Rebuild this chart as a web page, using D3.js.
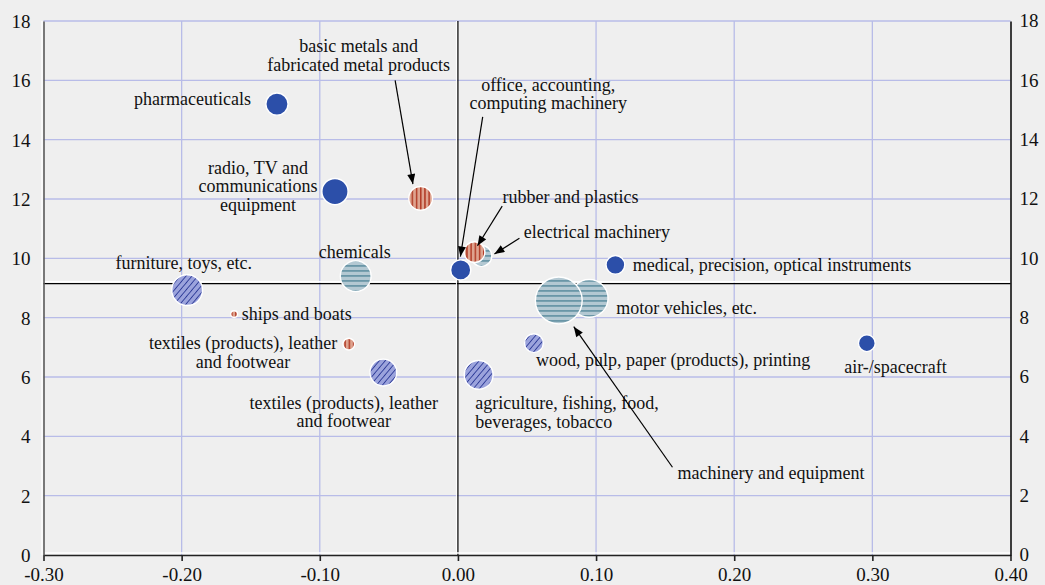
<!DOCTYPE html>
<html><head><meta charset="utf-8">
<script src="https://cdn.jsdelivr.net/npm/d3@7"></script>
<style>
html,body{margin:0;padding:0;background:#efefef;}
svg{display:block;}
text{font-family:"Liberation Serif","Times New Roman",serif;fill:#111;}
</style></head><body>
<svg id="chart" width="1045" height="585"></svg>
<script>
// ---------- data ----------
const sectors = [
  "pharmaceuticals",
  "radio, TV and communications equipment",
  "basic metals and fabricated metal products",
  "office, accounting, computing machinery",
  "rubber and plastics",
  "electrical machinery",
  "medical, precision, optical instruments",
  "chemicals",
  "furniture, toys, etc.",
  "ships and boats",
  "textiles (products), leather and footwear",
  "textiles (products), leather and footwear",
  "agriculture, fishing, food, beverages, tobacco",
  "wood, pulp, paper (products), printing",
  "air-/spacecraft",
  "motor vehicles, etc.",
  "machinery and equipment"
];
const xValues = [-0.131, -0.089, -0.027, 0.002, 0.012, 0.017, 0.114, -0.074, -0.196, -0.162, -0.079, -0.054, 0.015, 0.055, 0.296, 0.095, 0.073];
const yValues = [15.20, 12.25, 12.02, 9.61, 10.21, 10.08, 9.78, 9.40, 8.93, 8.12, 7.11, 6.15, 6.07, 7.14, 7.14, 8.65, 8.58];
const weights = [1.37, 1.88, 1.56, 1.14, 1.21, 1.21, 1.00, 2.56, 2.56, 0.16, 0.42, 1.96, 2.25, 1.00, 0.81, 3.80, 5.76];
const techClass = ["high","high","medlow","high","medlow","medhigh","high","medhigh","low","medlow","medlow","low","low","low","high","medhigh","medhigh"];
const xTicks = [-0.30, -0.20, -0.10, 0.00, 0.10, 0.20, 0.30, 0.40];
const yTicks = [0, 2, 4, 6, 8, 10, 12, 14, 16, 18];
const meanY = 9.15;

// ---------- layout (annotation placement, px offsets from bubble) ----------
const labelLayout = [
  {lines:["pharmaceuticals"], dx:-26, dy:-5, anchor:"end"},
  {lines:["radio, TV and","communications","equipment"], dx:-77, dy:-24, anchor:"middle"},
  {lines:["basic metals and","fabricated metal products"], dx:-62, dy:-152, anchor:"middle", arrow:{sx:36.5, sy:34, ex:-7.7, ey:-14.3}},
  {lines:["office, accounting,","computing machinery"], dx:87.5, dy:-185, anchor:"middle", arrow:{sx:-65.5, sy:32, ex:-0.3, ey:-13.3}},
  {lines:["rubber and plastics"], dx:28, dy:-54.7, anchor:"start", arrow:{sx:-0.3, sy:8.7, ex:3, ey:-6.3}},
  {lines:["electrical machinery"], dx:42.3, dy:-23.7, anchor:"start", arrow:{sx:-4.3, sy:6, ex:13, ey:-2}},
  {lines:["medical, precision, optical instruments"], dx:17.3, dy:0, anchor:"start"},
  {lines:["chemicals"], dx:-1, dy:-24, anchor:"middle"},
  {lines:["furniture, toys, etc."], dx:-3.5, dy:-26.7, anchor:"middle"},
  {lines:["ships and boats"], dx:7.7, dy:0, anchor:"start"},
  {lines:["textiles (products), leather","and footwear"], dx:-105.7, dy:-0.7, anchor:"middle"},
  {lines:["textiles (products), leather","and footwear"], dx:-39.5, dy:30, anchor:"middle"},
  {lines:["agriculture, fishing, food,","beverages, tobacco"], dx:-3.3, dy:28.3, anchor:"start"},
  {lines:["wood, pulp, paper (products), printing"], dx:2, dy:16.7, anchor:"start"},
  {lines:["air-/spacecraft"], dx:28.7, dy:23.4, anchor:"middle"},
  {lines:["motor vehicles, etc."], dx:27, dy:9.8, anchor:"start"},
  {lines:["machinery and equipment"], dx:118.7, dy:172.2, anchor:"start", arrow:{sx:-5, sy:-5.4, ex:15, ey:26.2}}
];
const drawOrder = [0,1,2,5,4,3,6,7,8,9,10,11,12,13,14,15,16];

// ---------- chart ----------
const FONT = "'Liberation Serif','Times New Roman',serif";
const svg = d3.select("#chart");
const W = 1045, H = 585;
svg.append("rect").attr("width",W).attr("height",H).attr("fill","#efefef");

const x = d3.scaleLinear().domain([-0.30, 0.40]).range([43.5, 1010.5]);
const y = d3.scaleLinear().domain([0, 18]).range([555, 21]);
const r = d3.scaleSqrt().domain([0, 1]).range([0, 10]);

const defs = svg.append("defs");
// medium-low: vertical red stripes
const pRed = defs.append("pattern").attr("id","pRed").attr("patternUnits","userSpaceOnUse").attr("width",4.2).attr("height",10);
pRed.append("rect").attr("width",4.2).attr("height",10).attr("fill","#dea38f");
pRed.append("rect").attr("x",0).attr("width",1.5).attr("height",10).attr("fill","#b23c27");
// medium-high: horizontal teal stripes
const pTeal = defs.append("pattern").attr("id","pTeal").attr("patternUnits","userSpaceOnUse").attr("width",10).attr("height",5);
pTeal.append("rect").attr("width",10).attr("height",5).attr("fill","#b3c8d2");
pTeal.append("rect").attr("y",0).attr("width",10).attr("height",1.8).attr("fill","#6a96a7");
// low: diagonal hatching on lavender
const pLav = defs.append("pattern").attr("id","pLav").attr("patternUnits","userSpaceOnUse").attr("width",4.5).attr("height",10).attr("patternTransform","rotate(40)");
pLav.append("rect").attr("width",4.5).attr("height",10).attr("fill","#9ba3dc");
pLav.append("rect").attr("x",0).attr("width",0.9).attr("height",10).attr("fill","#2e3c98");

const fillFor = {high:"#2c4fa9", medlow:"url(#pRed)", medhigh:"url(#pTeal)", low:"url(#pLav)"};

// grid
const gridColor = "#b8bce8";
const g = svg.append("g");
g.selectAll(".hg").data(yTicks.filter(d => d > 0)).join("line")
  .attr("x1", x(-0.30)).attr("x2", x(0.40))
  .attr("y1", d => y(d)).attr("y2", d => y(d))
  .attr("stroke", gridColor).attr("stroke-width", 1.3);
g.selectAll(".vg").data(xTicks.filter(d => d !== 0 && d > -0.3 && d < 0.4)).join("line")
  .attr("x1", d => x(d)).attr("x2", d => x(d))
  .attr("y1", y(18)).attr("y2", y(0))
  .attr("stroke", gridColor).attr("stroke-width", 1.3);

// reference lines
g.append("line").attr("x1", x(-0.30)).attr("x2", x(0.40)).attr("y1", y(meanY)-1.8).attr("y2", y(meanY)-1.8).attr("stroke","#ffffff").attr("stroke-width",1.6);
g.append("line").attr("x1", x(-0.30)).attr("x2", x(0.40)).attr("y1", y(meanY)).attr("y2", y(meanY)).attr("stroke","#000").attr("stroke-width",1.2);
g.append("line").attr("x1", x(0)-1.5).attr("x2", x(0)-1.5).attr("y1", y(18)).attr("y2", y(0)).attr("stroke","#ffffff").attr("stroke-width",1);
g.append("line").attr("x1", x(0)).attr("x2", x(0)).attr("y1", y(18)).attr("y2", y(0)).attr("stroke","#000").attr("stroke-width",1.2);

// axes
const fmt = d => d.toFixed(2);
g.append("line").attr("x1", x(-0.30)).attr("x2", x(0.40)).attr("y1", y(0)-2).attr("y2", y(0)-2).attr("stroke","#fff").attr("stroke-width",1.4);
g.append("line").attr("x1", x(-0.30)-1.5).attr("x2", x(-0.30)-1.5).attr("y1", y(18)).attr("y2", y(0)).attr("stroke","#fff").attr("stroke-width",1.2);

const xAxis = svg.append("g").attr("transform", `translate(0,${y(0)})`)
  .call(d3.axisBottom(x).tickValues(xTicks).tickFormat(fmt).tickSize(6).tickPadding(7).tickSizeOuter(0));
xAxis.select(".domain").attr("stroke","#222").attr("stroke-width",1.6);
xAxis.selectAll(".tick line").attr("stroke","#222").attr("stroke-width",1.6);
xAxis.selectAll("text").style("font-size","19px").style("font-family",FONT).style("fill","#111");

const yAxisL = svg.append("g").attr("transform", `translate(${x(-0.30)},0)`)
  .call(d3.axisLeft(y).tickValues(yTicks).tickSize(0).tickPadding(13).tickSizeOuter(0));
yAxisL.select(".domain").attr("stroke","#5a5a5a").attr("stroke-width",1.6);
yAxisL.selectAll("text").style("font-size","19px").style("font-family",FONT).style("fill","#111").attr("dy","0.34em");

const yAxisR = svg.append("g").attr("transform", `translate(${x(0.40)},0)`)
  .call(d3.axisRight(y).tickValues(yTicks).tickSize(0).tickPadding(9).tickSizeOuter(0));
yAxisR.select(".domain").attr("stroke","#000").attr("stroke-width",1.5);
yAxisR.selectAll("text").style("font-size","19px").style("font-family",FONT).style("fill","#111").attr("dy","0.3em");

// bubbles
const nodes = drawOrder.map(i => ({i, cx:x(xValues[i]), cy:y(yValues[i]), rr:r(weights[i]), cls:techClass[i]}));
svg.append("g").selectAll("circle").data(nodes).join("circle")
  .attr("cx", d => d.cx).attr("cy", d => d.cy).attr("r", d => d.rr - 0.6)
  .attr("fill", d => fillFor[d.cls])
  .attr("stroke","#ffffff").attr("stroke-width",1.4);

// labels
const lineH = 18.5;
const lg = svg.append("g");
sectors.forEach((name, i) => {
  const L = labelLayout[i];
  const lx = x(xValues[i]) + L.dx, ly = y(yValues[i]) + L.dy;
  const t = lg.append("text").style("font-size","18px").style("font-family",FONT).attr("text-anchor",L.anchor);
  L.lines.forEach((ln, k) => {
    t.append("tspan").attr("x", lx).attr("y", ly + k*lineH + 6).text(ln);
  });
});

// arrows
defs.append("marker").attr("id","ah").attr("viewBox","0 0 10 8").attr("refX",10).attr("refY",4)
  .attr("markerWidth",11).attr("markerHeight",8).attr("markerUnits","userSpaceOnUse").attr("orient","auto")
  .append("path").attr("d","M0,0 L10,4 L0,8 Z").attr("fill","#000");
const ag = svg.append("g");
sectors.forEach((name, i) => {
  const L = labelLayout[i];
  if (!L.arrow) return;
  const bx = x(xValues[i]), by = y(yValues[i]);
  const lx = bx + L.dx, ly = by + L.dy;
  ag.append("line")
    .attr("x1", lx + L.arrow.sx).attr("y1", ly + L.arrow.sy)
    .attr("x2", bx + L.arrow.ex).attr("y2", by + L.arrow.ey)
    .attr("stroke","#000").attr("stroke-width",1.2).attr("marker-end","url(#ah)");
});
</script>
</body></html>
